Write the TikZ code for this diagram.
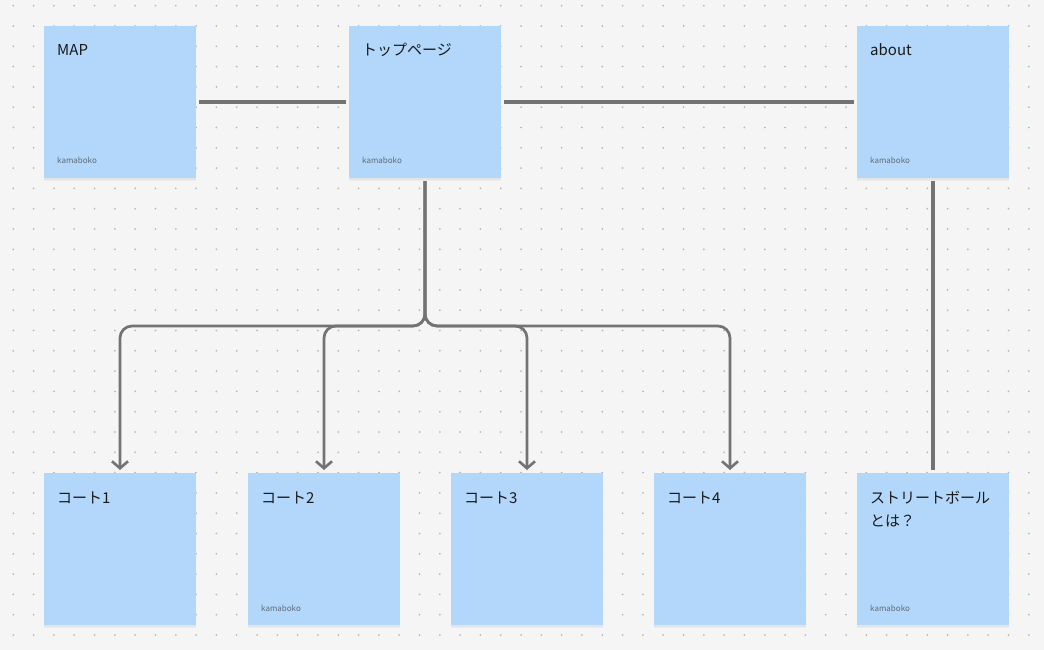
\documentclass[tikz,border=0pt]{standalone}
\usepackage{fontspec}
\setmainfont{Noto Sans CJK JP}
\usetikzlibrary{arrows.meta,shadows}
\definecolor{bgc}{HTML}{F5F5F5}
\definecolor{dotc}{HTML}{B9B9B9}
\definecolor{notec}{HTML}{B2D7FA}
\definecolor{linec}{HTML}{737373}
\definecolor{txtc}{HTML}{1A1A1A}
\definecolor{authc}{HTML}{5F6B78}
\tikzset{
  sticky/.style={anchor=north west, minimum width=152pt, minimum height=152pt,
    inner sep=0pt, outer sep=0pt, fill=notec, draw=none,
    drop shadow={opacity=0.07, shadow xshift=0pt, shadow yshift=-3pt},
    drop shadow={opacity=0.07, shadow xshift=0pt, shadow yshift=-1.5pt}},
  ttl/.style={anchor=base west, inner sep=0pt, font=\fontsize{15}{18}\selectfont, text=txtc},
  auth/.style={anchor=base west, inner sep=0pt, font=\fontsize{8}{9}\selectfont, text=authc},
  conn/.style={draw=linec, line width=2.7pt, shorten <=3pt, shorten >=3pt},
  plainconn/.style={conn, line width=3.1pt},
  arr/.style={conn, -{Straight Barb[length=7pt,width=16pt,line width=2.6pt]}, rounded corners=12pt}
}
\begin{document}
\begin{tikzpicture}[x=1pt,y=-1pt]
\useasboundingbox (0,0) rectangle (1044,650);
\fill[bgc] (0,0) rectangle (1044,650);
\foreach \i in {0,...,50}{
  \foreach \j in {0,...,31}{
    \fill[dotc] ({13.3+20.31*\i},{5.7+20.3*\j}) circle (1pt);
  }
}
% notes
\node[sticky] (map) at (44,26) {};
\node[sticky] (top) at (349,26) {};
\node[sticky] (about) at (857,26) {};
\node[sticky] (c1) at (44,473) {};
\node[sticky] (c2) at (248,473) {};
\node[sticky] (c3) at (451,473) {};
\node[sticky] (c4) at (654,473) {};
\node[sticky] (sb) at (857,473) {};
% titles
\node[ttl] (tmap) at (57,56) {MAP};
\node[ttl] (ttop) at (362,56) {トップページ};
\node[ttl] (tabout) at (870,56) {about};
\node[ttl] (tc1) at (57,503) {コート1};
\node[ttl] (tc2) at (261,503) {コート2};
\node[ttl] (tc3) at (464,503) {コート3};
\node[ttl] (tc4) at (667,503) {コート4};
\node[ttl] (tsb1) at (870,503) {ストリートボール};
\node[ttl] (tsb2) at (870,526) {とは？};
% authors
\node[auth] (amap) at (57,164) {kamaboko};
\node[auth] (atop) at (362,164) {kamaboko};
\node[auth] (aabout) at (870,164) {kamaboko};
\node[auth] (ac2) at (261,611) {kamaboko};
\node[auth] (asb) at (870,611) {kamaboko};
% connectors
\draw[plainconn] (map.east) -- (top.west);
\draw[plainconn] (top.east) -- (about.west);
\draw[plainconn] (about.south) -- (sb.north);
\coordinate (br) at (425,326);
\foreach \t in {c1,c2,c3,c4}{
  \draw[arr] (top.south) -- (br) -| (\t.north);
}
\end{tikzpicture}
\end{document}
